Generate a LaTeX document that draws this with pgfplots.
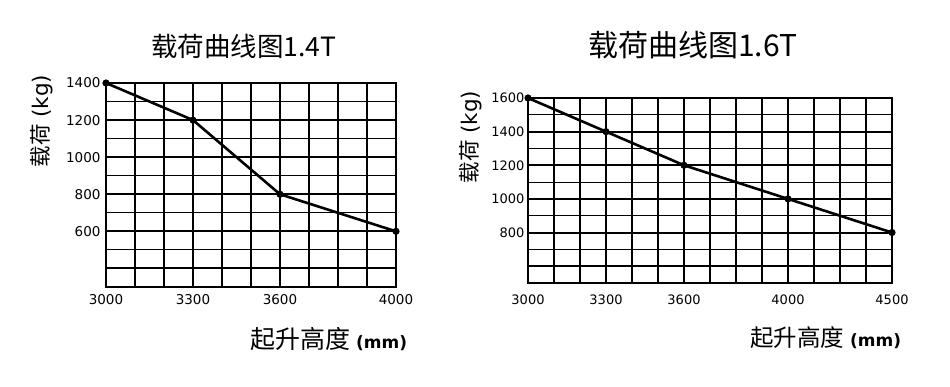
\documentclass[border=0pt]{standalone}
\usepackage{fontspec}
\setmainfont{DejaVu Sans}
\newfontfamily\cjk{Noto Sans CJK SC}
\usepackage{pgfplots}
\pgfplotsset{compat=1.18}
\pgfplotsset{
  loadchart/.style={
    anchor=south west, scale only axis, clip=false,
    grid=both,
    major grid style={black, line width=2pt},
    minor grid style={black, line width=1.1pt},
    axis line style={black, line width=2.4pt},
    major tick length=0pt, minor tick length=0pt,
    tick style={draw=none},
    /pgf/number format/assume math mode=true,
    /pgf/number format/set thousands separator={},
    tick label style={font=\fontsize{13.5}{13.5}\selectfont},
  }
}
\begin{document}
\begin{tikzpicture}[x=1pt,y=1pt]
\useasboundingbox (0,0) rectangle (950,386);
% left chart
\begin{axis}[loadchart,
  at={(106pt,99pt)}, width=290pt, height=204pt,
  xmin=3000, xmax=4000, ymin=300, ymax=1400,
  xtick={3000,3300,3600,4000},
  minor xtick={3100,3200,3400,3500,3700,3800,3900},
  ytick={400,600,800,1000,1200,1400},
  yticklabels={,600,800,1000,1200,1400},
  minor ytick={500,700,900,1100,1300},
  xticklabel style={yshift=-4pt},
  yticklabel style={xshift=-2pt},
]
\addplot[black, line width=2.6pt, mark=*, mark size=2.2pt] coordinates {
  (3000,1400) (3300,1200) (3600,800) (4000,600)
};
\end{axis}
% right chart
\begin{axis}[loadchart,
  at={(528pt,103pt)}, width=364pt, height=185pt,
  xmin=0, xmax=14, ymin=500, ymax=1600,
  xtick={0,3,6,10,14},
  xticklabels={3000,3300,3600,4000,4500},
  minor xtick={1,2,4,5,7,8,9,11,12,13},
  ytick={600,800,1000,1200,1400,1600},
  yticklabels={,800,1000,1200,1400,1600},
  minor ytick={700,900,1100,1300,1500},
  tick label style={font=\fontsize{13}{13}\selectfont},
  xticklabel style={yshift=-8pt},
  yticklabel style={xshift=0pt},
]
\addplot[black, line width=2.6pt, mark=*, mark size=2.2pt] coordinates {
  (0,1600) (3,1400) (6,1200) (10,1000) (14,800)
};
\end{axis}
% titles
\node at (244,340) {\cjk\fontsize{26.5}{26.5}\selectfont 载荷曲线图1.4T};
\node at (693,341) {\cjk\fontsize{30}{30}\selectfont 载荷曲线图1.6T};
% y labels
\node[rotate=90] at (42,265) {\fontsize{21.5}{21.5}\selectfont{\cjk 载荷} (kg)};
\node[rotate=90] at (471,249) {\fontsize{21.5}{21.5}\selectfont{\cjk 载荷} (kg)};
% x labels
\node[anchor=west, inner sep=0pt] at (250,47) {{\cjk\fontsize{25}{25}\selectfont 起升高度}\hspace{6pt}{\fontsize{17}{17}\selectfont\bfseries (mm)}};
\node[anchor=west, inner sep=0pt] at (750,48) {{\cjk\fontsize{23.5}{23.5}\selectfont 起升高度}\hspace{6pt}{\fontsize{17}{17}\selectfont\bfseries (mm)}};
\end{tikzpicture}
\end{document}
